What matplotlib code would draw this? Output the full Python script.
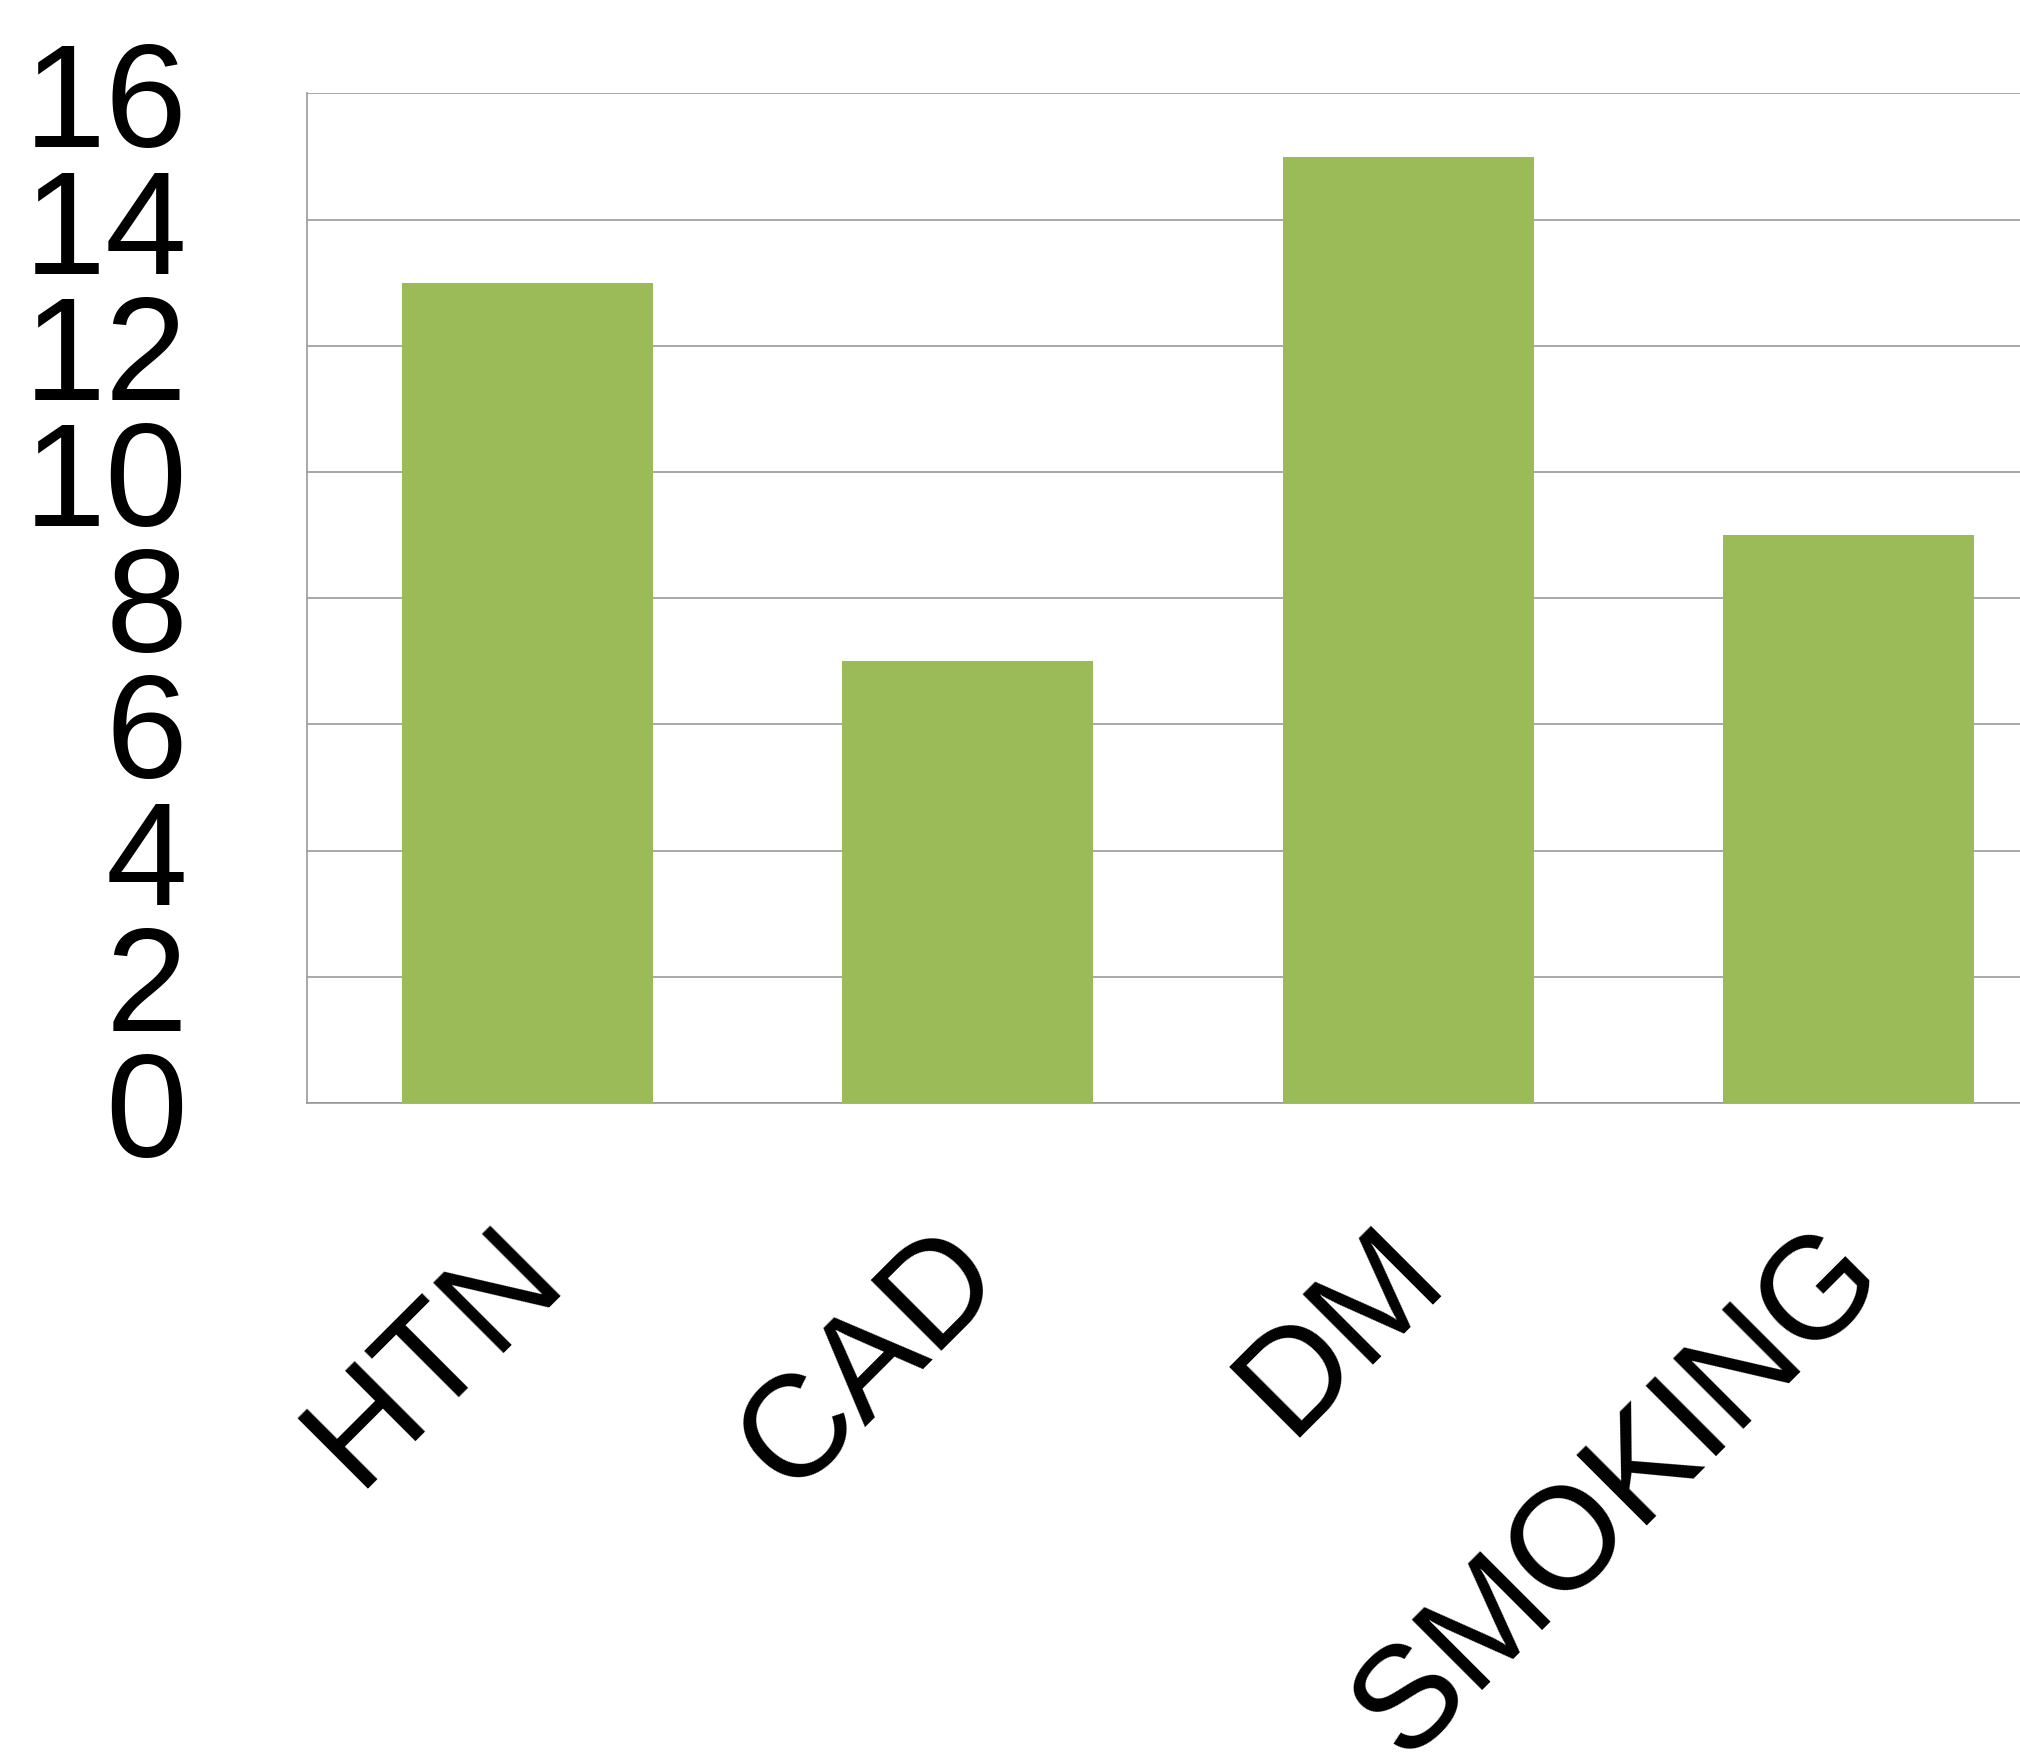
import numpy as np
import matplotlib
matplotlib.use("Agg")
import matplotlib.pyplot as plt
import matplotlib.transforms as mtransforms

# Risk factor counts
categories = ["HTN", "CAD", "DM", "SMOKING"]
counts = [13, 7, 15, 9]
yticks = [0, 2, 4, 6, 8, 10, 12, 14, 16]

plt.rcParams['font.family'] = ['Liberation Sans', 'DejaVu Sans']

fig = plt.figure(figsize=(20.2, 17.65), dpi=100)
ax = fig.add_axes([0.152, 0.3745, 0.848, 0.572])

x = np.arange(len(categories))
ax.bar(x, counts, width=0.57, color='#9BBB59', zorder=3)

ax.set_xlim(-0.5, 3.389)
ax.set_ylim(0, 16)
ax.set_yticks(yticks)
ax.set_yticklabels([str(v) for v in yticks], fontsize=106)
ax.set_xticks(x)
ax.set_xticklabels(categories, fontsize=104, rotation=45,
                   ha='right', va='center', rotation_mode='anchor')

ax.tick_params(axis='y', length=0, pad=86)
ax.tick_params(axis='x', length=0, pad=107)

# nudge the rotated labels a little to the right
shift = mtransforms.ScaledTranslation(12 / 100, 0, fig.dpi_scale_trans)
for lab in ax.get_xticklabels():
    lab.set_transform(lab.get_transform() + shift)

ax.yaxis.grid(True, color='#999999', linewidth=1.2, zorder=0)
ax.set_axisbelow(True)
for s in ['top', 'right']:
    ax.spines[s].set_visible(False)
for s in ['left', 'bottom']:
    ax.spines[s].set_color('#999999')
    ax.spines[s].set_linewidth(1.2)

fig.savefig("out.png", dpi=100)
